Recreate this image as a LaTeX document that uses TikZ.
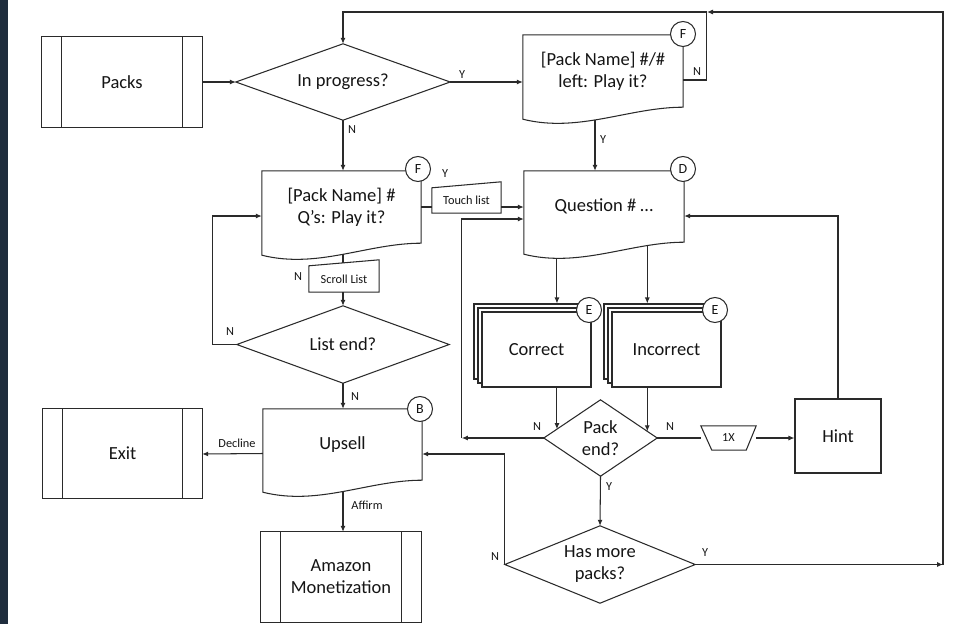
\documentclass[tikz,border=0pt]{standalone}
\usepackage{fontspec}
\setmainfont{Carlito}
\usetikzlibrary{arrows.meta,calc}
\definecolor{navy}{HTML}{1F2D3D}
\definecolor{ln}{HTML}{2A2A2A}
\definecolor{txt}{HTML}{151515}
\newcommand\predefbox[1]{%
  \draw[outl] (#1.north west) rectangle (#1.south east);
  \draw[outl] ($(#1.north west)+(20,0)$) -- ($(#1.south west)+(20,0)$);
  \draw[outl] ($(#1.north east)+(-20,0)$) -- ($(#1.south east)+(-20,0)$);}
\newcommand\docbox[1]{%
  \draw[outl] (#1.south east) -- (#1.north east) -- (#1.north west) -- ($(#1.south west)+(0,12)$)
    .. controls ($(#1.south west)+(56,26)$) and ($(#1.south east)+(-54,0)$) .. (#1.south east) -- cycle;}
\newcommand\diambox[1]{%
  \draw[outl] (#1.north) -- (#1.east) -- (#1.south) -- (#1.west) -- cycle;}
\newcommand\backstack[1]{%
  \draw[outl,fill=white] ($(#1)+(-62.5,-45.5)$) rectangle ($(#1)+(46.5,29.5)$);
  \draw[outl,fill=white] ($(#1)+(-58.5,-41.5)$) rectangle ($(#1)+(50.5,33.5)$);}
\begin{document}
\begin{tikzpicture}[x=1pt,y=-1pt,
  outl/.style={draw=ln,line width=1.05pt},
  shp/.style={draw=none,inner sep=0pt,align=center,text=txt,font=\fontsize{18.5}{22}\selectfont},
  lbl/.style={inner sep=0pt,text=txt,font=\fontsize{12.3}{14}\selectfont},
  tag/.style={circle,draw=ln,line width=1.05pt,fill=white,minimum size=25pt,inner sep=0pt,text=txt,font=\fontsize{14}{16}\selectfont},
  arr/.style={draw=ln,line width=1.05pt,-{Latex[length=6pt,width=5pt]}},
  con/.style={draw=ln,line width=1.05pt}]
\useasboundingbox (0,0) rectangle (957,624);
\fill[white] (0,0) rectangle (957,624);
\fill[navy] (0,0) rectangle (8,624);

% nodes
\node[shp,minimum width=160pt,minimum height=90pt] (packs) at (122,82) {Packs};
\node[shp,minimum width=214pt,minimum height=76pt] (ip) at (343,82) {In progress?};
\node[shp,minimum width=160pt,minimum height=72pt] (pl) at (603,71) {[Pack Name] \#/\#\\left: Play it?};
\node[shp,minimum width=159pt,minimum height=72pt] (pq) at (341.5,207) {[Pack Name] \#\\Q’s: Play it?};
\node[shp,minimum width=160pt,minimum height=71pt] (q) at (604,206.5) {Question \# …};
\node[shp,minimum width=69pt,minimum height=25pt,font=\fontsize{12.3}{14}\selectfont] (tl) at (466.5,200.5) {Touch list};
\node[shp,minimum width=70pt,minimum height=26pt,font=\fontsize{12.3}{14}\selectfont] (sl) at (344,279) {Scroll List};
\node[shp,minimum width=212pt,minimum height=77pt] (le) at (343,344.5) {List end?};
\node[shp,minimum width=159pt,minimum height=71pt] (up) at (342.5,444.5) {Upsell};
\node[shp,minimum width=159pt,minimum height=89pt] (exit) at (122.5,453.5) {Exit};
\node[shp,minimum width=160pt,minimum height=90pt] (am) at (341,577) {Amazon\\Monetization};
\coordinate (corc) at (536.5,349.5);
\coordinate (icc) at (666.5,349.5);
\backstack{corc}
\backstack{icc}
\node[shp,draw=ln,line width=1.05pt,fill=white,minimum width=109pt,minimum height=75pt] (cor) at (corc) {Correct};
\node[shp,draw=ln,line width=1.05pt,fill=white,minimum width=109pt,minimum height=75pt] (ic) at (icc) {Incorrect};
\node[shp,minimum width=113pt,minimum height=76pt] (pe) at (600.5,438) {Pack\\end?};
\node[shp,minimum width=55pt,minimum height=24pt,font=\fontsize{12.3}{14}\selectfont] (ox) at (728.5,438) {1X};
\node[shp,draw=ln,line width=1.05pt,minimum width=86pt,minimum height=74pt] (hint) at (838,436) {Hint};
\node[shp,minimum width=190pt,minimum height=77pt] (hm) at (600,564.5) {Has more\\packs?};

% outlines
\predefbox{packs}
\predefbox{exit}
\predefbox{am}
\diambox{ip}
\diambox{le}
\diambox{pe}
\diambox{hm}
\docbox{pl}
\docbox{pq}
\docbox{q}
\docbox{up}
\draw[outl] (tl.south west) -- (tl.north west) -- ($(tl.north east)+(0,-6)$) -- (tl.south east) -- cycle;
\draw[outl] (sl.south west) -- (sl.north west) -- ($(sl.north east)+(0,-6)$) -- (sl.south east) -- cycle;
\draw[outl] (ox.north west) -- (ox.north east) -- ($(ox.south east)+(-10,0)$) -- ($(ox.south west)+(11,0)$) -- cycle;

% tags
\node[tag] (tF1) at (683,34) {F};
\node[tag] (tF2) at (418,169) {F};
\node[tag] (tD) at (683,169) {D};
\node[tag] (tE1) at (589,310) {E};
\node[tag] (tE2) at (715,310) {E};
\node[tag] (tB) at (420,409) {B};

% helper coordinates
\coordinate (topY) at (0,12);
\coordinate (rc) at (943,0);
\coordinate (tj) at (707,12);
\coordinate (plY) at ($(pl.south)+(-8,13)$);
\coordinate (pqB) at ($(pq.south)+(1.5,11)$);
\coordinate (upB) at ($(up.south)+(0.5,11.5)$);
\coordinate (ce) at ($(pe.west)!0.232!(pe.north)$);
\coordinate (ie) at ($(pe.east)!0.175!(pe.north)$);

% connectors
\draw[arr] (packs.east) -- (ip.west);
\draw[arr] (ip.east) -- (ip.east -| pl.west);
\draw[arr] ($(pl.east)+(0,9)$) -- ++(23,0) |- (ip.north |- topY) -- (ip.north);
\draw[arr] (plY) -- (plY |- q.north);
\draw[arr] (ip.south) -- (ip.south |- pq.north);
\draw[con] (pq.east) -- (pq.east -| tl.west);
\draw[arr] (pq.east -| tl.east) -- (pq.east -| q.west);
\draw[con] (pqB) -- ($(pqB |- sl.north)+(0,-3)$);
\draw[arr] (le.north |- sl.south) -- (le.north);
\draw[arr] (le.west) -- ++(-24,0) |- ($(pq.west)+(0,9)$);
\draw[arr] (le.south) -- (le.south |- up.north);
\draw[arr] ($(up.west)+(0,9)$) -- ($(exit.east)+(0,0.5)$);
\draw[arr] (upB) -- (upB |- am.north);
\draw[arr] (hm.west) |- ($(up.east)+(0,9.5)$);
\draw[arr] ($(ce |- q.south)+(0,16.5)$) -- ($(ce |- cor.north)+(0,-8)$);
\draw[arr] ($(ie |- q.south)+(0,3)$) -- ($(ie |- ic.north)+(0,-8)$);
\draw[arr] (cor.south -| ce) -- (ce);
\draw[arr] (ic.south -| ie) -- (ie);
\draw[arr] (pe.west) -- ($(pe.west)+(-82,0)$);
\draw[arr] ($(pe.west)+(-82,0)$) |- ($(q.west)+(0,12.5)$);
\draw[con] (pe.east) -- (ox.west);
\draw[arr] (ox.east) -- (ox.east -| hint.west);
\draw[arr] (hint.north) |- ($(q.east)+(0,9.5)$);
\draw[arr] (pe.south) -- (hm.north);
\draw[arr] (hm.east) -- (hm.east -| rc);
\draw[arr] (hm.east -| rc) -- (rc |- topY) -- (tj);

% labels
\node[lbl] (l1) at (462,75) {Y};
\node[lbl] (l2) at (352,130) {N};
\node[lbl] (l3) at (697,72) {N};
\node[lbl] (l4) at (603,140) {Y};
\node[lbl] (l5) at (445,174) {Y};
\node[lbl] (l6) at (298,277) {N};
\node[lbl] (l7) at (230,332) {N};
\node[lbl] (l8) at (355,397) {N};
\node[lbl] (l9) at (237,443) {Decline};
\node[lbl] (l10) at (367,505) {Affirm};
\node[lbl] (l11) at (537,427) {N};
\node[lbl] (l12) at (670,427) {N};
\node[lbl] (l13) at (609,487) {Y};
\node[lbl] (l14) at (495,557) {N};
\node[lbl] (l15) at (705,553) {Y};
\end{tikzpicture}
\end{document}
